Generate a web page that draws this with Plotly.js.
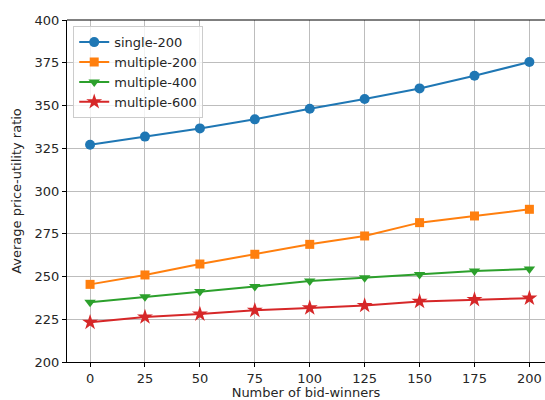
<!DOCTYPE html>
<html>
<head>
<meta charset="utf-8">
<script src="https://cdn.plot.ly/plotly-3.0.1.min.js"></script>
<style>html,body{margin:0;padding:0;overflow:hidden;background:#fff}</style>
</head>
<body>
<div id="chart" style="width:545px;height:400px"></div>
<script>
const xValues = [0, 25, 50, 75, 100, 125, 150, 175, 200];
const single200 = [327, 331.8, 336.6, 341.9, 348.1, 353.8, 360, 367.4, 375.4];
const multiple200 = [245.4, 250.9, 257.3, 263, 268.8, 273.7, 281.5, 285.4, 289.3];
const multiple400 = [235, 238.2, 241.3, 244.2, 247.3, 249.3, 251.1, 253.2, 254.4];
const multiple600 = [223.2, 226.3, 228, 230.2, 231.6, 233, 235.4, 236.5, 237.3];
const seriesNames = ["single-200", "multiple-200", "multiple-400", "multiple-600"];
const xTicks = [0, 25, 50, 75, 100, 125, 150, 175, 200];
const yTicks = [200, 225, 250, 275, 300, 325, 350, 375, 400];

const colors = ["#1f77b4", "#ff7f0e", "#2ca02c", "#d62728"];
const symbols = ["circle", "square", "triangle-down", "star"];
const sizes = [10, 9, 10, 12];
const data = [single200, multiple200, multiple400, multiple600].map((ys, i) => ({
  x: xValues, y: ys, name: seriesNames[i], type: "scatter", mode: "lines+markers",
  line: {color: colors[i], width: 2},
  marker: {symbol: symbols[i], size: sizes[i], color: colors[i]}
}));

const font = {family: "DejaVu Sans", size: 13, color: "#262626"};
const layout = {
  width: 545, height: 400,
  margin: {l: 67, r: 0, t: 20, b: 38},
  paper_bgcolor: "#fff", plot_bgcolor: "#fff",
  font: font,
  showlegend: true,
  legend: {x: 0.013, y: 0.982, xanchor: "left", yanchor: "top",
    bgcolor: "rgba(255,255,255,0.8)", bordercolor: "#cccccc", borderwidth: 1,
    font: font, tracegroupgap: 0},
  xaxis: {
    range: [-10.5, 207.1], tickvals: xTicks, ticktext: xTicks.map(String),
    showgrid: true, gridcolor: "#bdbdbd", gridwidth: 1,
    zeroline: false, showline: true, linecolor: "#000", linewidth: 1, mirror: false,
    ticks: "outside", ticklen: 4, tickcolor: "#000", tickfont: font,
    title: {text: "Number of bid-winners", font: font, standoff: 11}
  },
  yaxis: {
    range: [200, 400], tickvals: yTicks, ticktext: yTicks.map(String),
    showgrid: true, gridcolor: "#bdbdbd", gridwidth: 1,
    zeroline: false, showline: true, linecolor: "#000", linewidth: 1, mirror: false,
    ticks: "outside", ticklen: 4, tickcolor: "#000", tickfont: font,
    title: {text: "Average price-utility ratio", font: font, standoff: 10}
  },
  shapes: [{type: "line", xref: "paper", yref: "paper", x0: 0, x1: 1, y0: 1, y1: 1,
    line: {color: "#000", width: 1}}]
};
Plotly.newPlot("chart", data, layout, {staticPlot: true});
</script>
</body>
</html>
